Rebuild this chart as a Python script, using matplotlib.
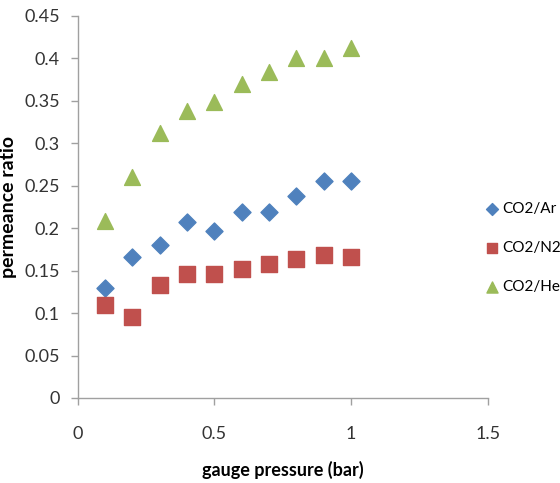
import matplotlib
matplotlib.use("Agg")
import matplotlib.pyplot as plt

plt.rcParams["font.family"] = ["Lato", "DejaVu Sans"]

# gauge pressure (bar)
pressure = [0.1, 0.2, 0.3, 0.4, 0.5, 0.6, 0.7, 0.8, 0.9, 1.0]

# permeance ratios
co2_ar = [0.129, 0.166, 0.180, 0.207, 0.197, 0.219, 0.219, 0.238, 0.255, 0.255]
co2_n2 = [0.110, 0.095, 0.133, 0.146, 0.146, 0.152, 0.158, 0.164, 0.169, 0.166]
co2_he = [0.208, 0.260, 0.312, 0.338, 0.349, 0.370, 0.384, 0.401, 0.401, 0.412]

fig = plt.figure(figsize=(5.6, 4.83), dpi=100)
ax = fig.add_axes([0.139, 0.176, 0.732, 0.791])

ax.scatter(pressure, co2_ar, marker="D", s=75, color="#4F81BD", label="CO2/Ar", zorder=3)
ax.scatter(pressure, co2_n2, marker="s", s=120, color="#C0504D", label="CO2/N2", zorder=3)
ax.scatter(pressure, co2_he, marker="^", s=130, color="#9BBB59", label="CO2/He", zorder=3)

ax.set_xlim(0, 1.5)
ax.set_ylim(0, 0.45)
ax.set_xticks([0, 0.5, 1, 1.5])
ax.set_xticklabels(["0", "0.5", "1", "1.5"])
ax.set_yticks([i * 0.05 for i in range(10)])
ax.set_yticklabels(["0", "0.05", "0.1", "0.15", "0.2", "0.25", "0.3", "0.35", "0.4", "0.45"])

for side in ["top", "right"]:
    ax.spines[side].set_visible(False)
for side in ["left", "bottom"]:
    ax.spines[side].set_color("#A0A0A0")
    ax.spines[side].set_linewidth(1.0)
ax.tick_params(colors="#A0A0A0", labelcolor="#333333", labelsize=13, length=5, width=1)
ax.tick_params(axis="x", pad=15)
ax.tick_params(axis="y", pad=8)

ax.set_xlabel("gauge pressure (bar)", fontsize=13, fontweight="bold", labelpad=14)
ax.set_ylabel("permeance ratio", fontsize=14, fontweight="bold")
ax.yaxis.set_label_coords(-0.148, 0.5)

# legend sits just right of the axis end, as in the original
fig.legend(loc="center left", bbox_to_anchor=(0.862, 0.487), frameon=False,
           fontsize=11, handletextpad=0.05, handlelength=1.2, labelspacing=1.65,
           markerscale=0.7, borderaxespad=0, borderpad=0)

fig.savefig("out.png", dpi=100)
